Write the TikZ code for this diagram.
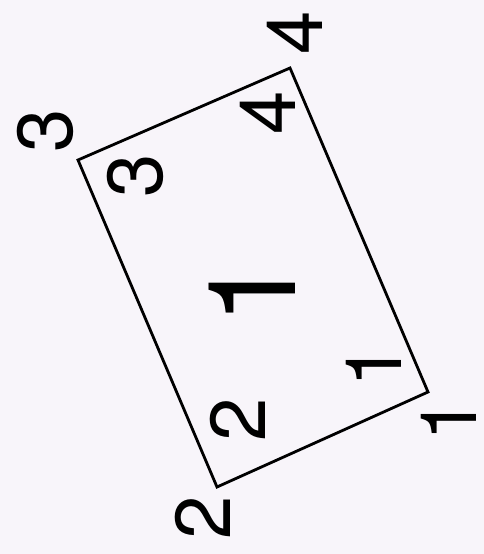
\documentclass[tikz,border=0pt]{standalone}
\usepackage{fontspec}
\setmainfont{TeX Gyre Heros}
\definecolor{bg}{RGB}{248,245,250}
\begin{document}
\begin{tikzpicture}[x=1pt,y=-1pt,
  digit/.style={rotate=90,inner sep=0pt,font=\fontsize{78}{78}\selectfont},
  bigdigit/.style={rotate=90,inner sep=0pt,font=\fontsize{122}{122}\selectfont},
  frame/.style={line width=2.8pt,line join=miter}]
\fill[bg] (0,0) rectangle (484,554);
\useasboundingbox (0,0) rectangle (484,554);
\coordinate (c3) at (78,160);
\coordinate (c4) at (290,68);
\coordinate (c1) at (428,392);
\coordinate (c2) at (217,487);
\draw[frame] (c3) -- (c4) -- (c1) -- (c2) -- cycle;
% outer labels
\node[digit] (o3) at (45,131) {3};
\node[digit] (o4) at (295,33) {4};
\node[digit] (o1) at (449,420) {1};
\node[digit] (o2) at (203,518) {2};
% inner labels
\node[digit] (i3) at (135,176) {3};
\node[digit] (i4) at (268,113) {4};
\node[digit] (i1) at (374,366) {1};
\node[digit] (i2) at (238,420) {2};
% centre label
\node[bigdigit] (mid) at (252,292) {1};
\end{tikzpicture}
\end{document}
